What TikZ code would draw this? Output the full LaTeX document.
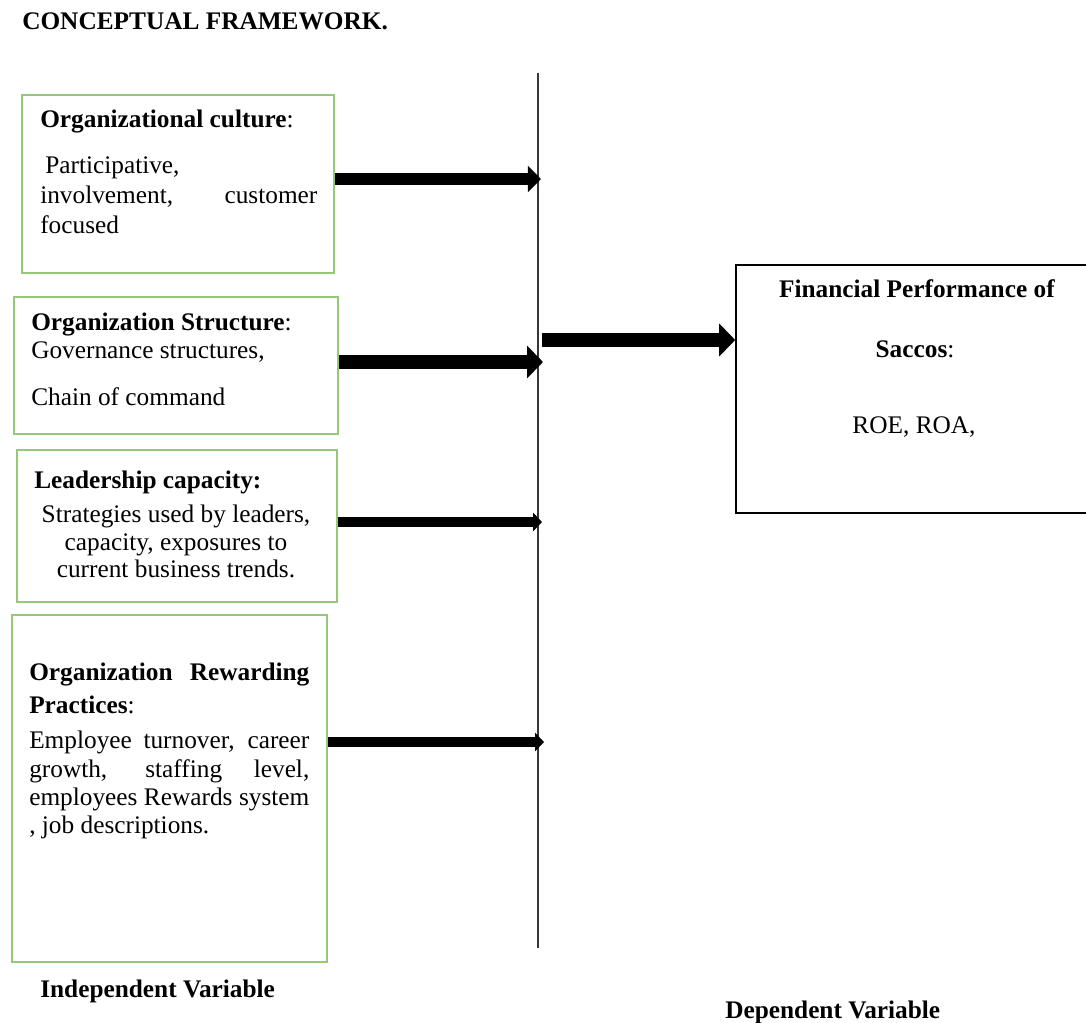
\documentclass[tikz,border=0pt]{standalone}
\usepackage{fontspec}
\setmainfont{Liberation Serif}
\usetikzlibrary{arrows.meta,fit}
\definecolor{boxgreen}{RGB}{150,200,120}
\definecolor{spinegray}{RGB}{55,55,55}
\begin{document}
\begin{tikzpicture}[x=0.025cm,y=-0.025cm,
  every node/.style={font=\fontsize{18}{21}\selectfont},
  txt/.style={anchor=base west,inner sep=0pt},
  ctxt/.style={anchor=base,inner sep=0pt},
  gbox/.style={draw=boxgreen,line width=1.1pt,inner sep=0pt},
  kbox/.style={draw=black,line width=1.1pt,inner sep=0pt},
  spine/.style={draw=spinegray,line width=1.5pt},
  bigarrow/.style={line width=8.5pt,-{Triangle[length=0.33cm,width=0.65cm]}},
  widearrow/.style={line width=10.5pt,-{Triangle[length=0.4cm,width=0.8cm]}},
  thinarrow/.style={line width=7pt,-{Triangle[length=0.22cm,width=0.45cm]}}]
\useasboundingbox (0,0) rectangle (1086,1022);

% heading
\node[txt] (title) at (22,29) {\textbf{CONCEPTUAL FRAMEWORK.}};

% independent variable boxes
\node[gbox,fit={(22,95) (334,273)}] (b1) {};
\node[gbox,fit={(14,297) (338,434)}] (b2) {};
\node[gbox,fit={(17,450) (337,602)}] (b3) {};
\node[gbox,fit={(12,615) (327,962)}] (b4) {};

% dependent variable box
\node[kbox,fit={(736,265) (1098,513)}] (fp) {};

% vertical divider
\coordinate (spTop) at (538,73);
\coordinate (spBot) at (538,948);
\draw[spine] (spTop) -- (spBot);

% box 1 text
\node[txt] (t1a) at (40,127) {\textbf{Organizational culture}:};
\node[txt] (t1b) at (45,173) {Participative,};
\node[txt] (t1c) at (40,203) {\makebox[6.925cm][s]{involvement, customer}};
\node[txt] (t1d) at (40,233) {focused};

% box 2 text
\node[txt] (t2a) at (31,330) {\textbf{Organization Structure}:};
\node[txt] (t2b) at (31,358) {Governance structures,};
\node[txt] (t2c) at (31,405) {Chain of command};

% box 3 text
\node[txt] (t3a) at (34,488) {\textbf{Leadership capacity:}};
\node[ctxt] (t3b) at (176,522) {Strategies used by leaders,};
\node[ctxt] (t3c) at (176,550) {capacity, exposures to};
\node[ctxt] (t3d) at (176,577) {current business trends.};

% box 4 text
\node[txt] (t4a) at (29,680) {\makebox[7cm][s]{\textbf{Organization Rewarding}}};
\node[txt] (t4b) at (29,713) {\textbf{Practices}:};
\node[txt] (t4c) at (29,748) {\makebox[7cm][s]{Employee turnover, career}};
\node[txt] (t4d) at (29,777) {\makebox[7cm][s]{growth, staffing level,}};
\node[txt] (t4e) at (29,805) {\makebox[7cm][s]{employees Rewards system}};
\node[txt] (t4f) at (29,833) {, job descriptions.};

% dependent box text
\node[ctxt] (t5a) at (917,297) {\textbf{Financial Performance of}};
\node[ctxt] (t5b) at (915,357) {\textbf{Saccos}:};
\node[ctxt] (t5c) at (914,433) {ROE, ROA,};

% captions
\node[txt] (lblI) at (40,997) {\textbf{Independent Variable}};
\node[txt] (lblD) at (725,1018) {\textbf{Dependent Variable}};

% arrow ends on the divider
\coordinate (a1) at (541,179);
\coordinate (a2) at (543,362);
\coordinate (a3) at (542,522);
\coordinate (a4) at (544,742);
\coordinate (a5) at (542,340);

\draw[bigarrow] (b1.east |- a1) -- (a1);
\draw[widearrow] (b2.east |- a2) -- (a2);
\draw[thinarrow] (b3.east |- a3) -- (a3);
\draw[thinarrow] (b4.east |- a4) -- (a4);
\draw[widearrow] (a5) -- (fp.west |- a5);
\end{tikzpicture}
\end{document}
